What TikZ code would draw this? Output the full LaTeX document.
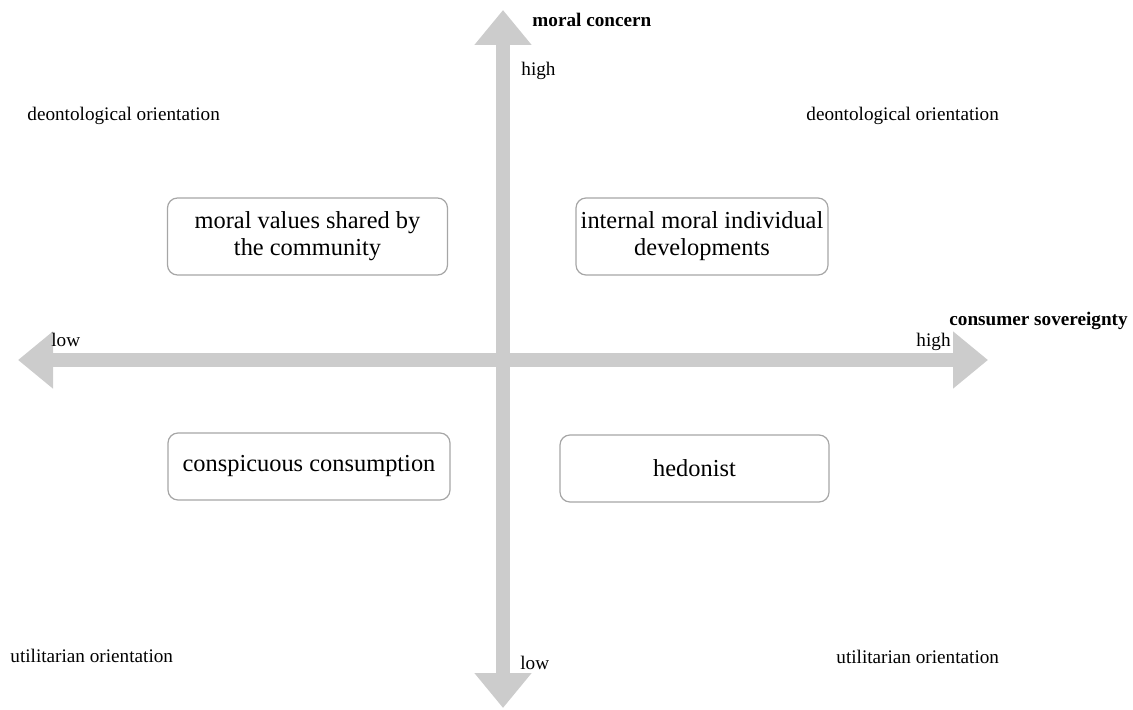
\documentclass[tikz,border=0pt]{standalone}
\usepackage{fontspec}
\setmainfont{Liberation Serif}
\usetikzlibrary{arrows.meta}
\tikzset{
  axis/.style={line width=7pt,draw=black!20,{Triangle[width=27.5pt,length=17.5pt]}-{Triangle[width=27.5pt,length=17.5pt]}},
  quadbox/.style={draw=black!35,line width=0.6pt,rounded corners=5pt,align=center,inner sep=0pt,font=\fontsize{12.2}{13.5}\selectfont},
  lbl/.style={inner sep=0pt,font=\fontsize{9.6}{11}\selectfont},
  axlbl/.style={inner sep=0pt,font=\fontsize{9.6}{11}\selectfont\bfseries},
}
\begin{document}
\begin{tikzpicture}[x=0.5pt,y=-0.5pt]
    \useasboundingbox (0,0) rectangle (1133,710);
    % axes
    \coordinate (mtop) at (503,10);
    \coordinate (mbot) at (503,708);
    \coordinate (cleft) at (18,360);
    \coordinate (cright) at (988,360);
\draw[axis](cleft)--(cright);
\draw[axis](mbot)--(mtop);
\node[axlbl,anchor=west] (mcon) at (532,20) {moral concern};
\node[axlbl,anchor=west] (csov) at (949,321) {consumer sovereignty};
\node[lbl,anchor=west] (mhigh) at (521,71) {high};
\node[lbl,anchor=west] (mlow) at (520,663) {low};
\node[lbl,anchor=west] (clow) at (51,340) {low};
\node[lbl,anchor=east] (chigh) at (951,342) {high};
    % orientations
\node[lbl,anchor=west] (deonl) at (27,116) {deontological orientation};
\node[lbl,anchor=west] (deonr) at (806,116) {deontological orientation};
\node[lbl,anchor=west] (utill) at (10,656) {utilitarian orientation};
\node[lbl,anchor=west] (utilr) at (836,657) {utilitarian orientation};
    % quadrants
\node[quadbox,minimum width=140pt,minimum height=38.5pt] (mvals) at (307.5,236.5) {moral values shared by\\the community};
\node[quadbox,minimum width=126pt,minimum height=38.5pt] (indiv) at (702,236.5) {internal moral individual\\developments};
\node[quadbox,minimum width=141pt,minimum height=33.5pt] (consp) at (309,466.5) {conspicuous consumption};
\node[quadbox,minimum width=134.5pt,minimum height=33.5pt] (hedon) at (694.5,468.5) {hedonist};
\end{tikzpicture}
\end{document}
